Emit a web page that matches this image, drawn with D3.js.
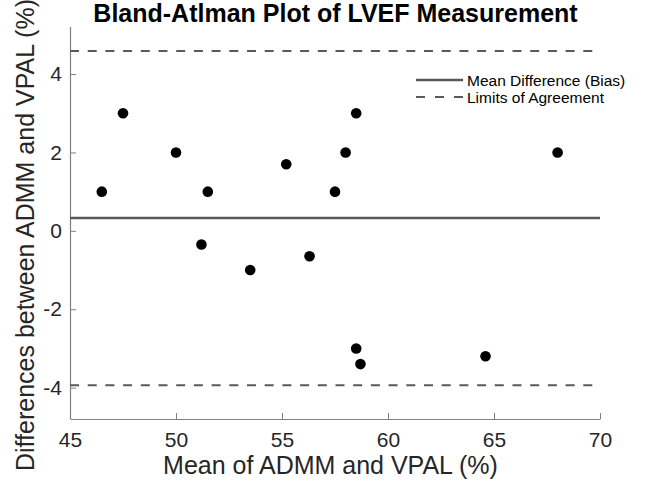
<!DOCTYPE html>
<html>
<head>
<meta charset="utf-8">
<script src="https://cdn.jsdelivr.net/npm/d3@7"></script>
<style>
  body { margin: 0; background: #fff; }
  text { font-family: "Liberation Sans", Arial, Helvetica, sans-serif; }
</style>
</head>
<body>
<script>
// mean of the two methods (%) and their difference (%)
var meanVals = [46.5, 47.5, 50.0, 51.2, 51.5, 53.5, 55.2, 56.3, 57.5, 58.0, 58.5, 58.5, 58.7, 64.6, 68.0];
var diffVals = [1.0, 3.0, 2.0, -0.35, 1.0, -1.0, 1.7, -0.65, 1.0, 2.0, 3.0, -3.0, -3.4, -3.2, 2.0];
var bias = 0.33;
var limits = [4.59, -3.94];
var xTicks = [45, 50, 55, 60, 65, 70];
var yTicks = [-4, -2, 0, 2, 4];
var legendLabels = ["Mean Difference (Bias)", "Limits of Agreement"];

var w = 649, h = 484;
var mLeft = 70, mRight = 600, mTop = 27, mBottom = 419;
var lineColor = "#5a5a5a";
var axisColor = "#808080";

var svg = d3.select("body").append("svg").attr("width", w).attr("height", h);

var x = d3.scaleLinear().domain([45, 70]).range([mLeft, mRight]);
var y = d3.scaleLinear().domain([-4.8, 5.2]).range([mBottom, mTop]);

// axes (ticks point inward, no box)
var xAxis = svg.append("g").attr("transform", "translate(0," + mBottom + ")")
  .call(d3.axisBottom(x).tickValues(xTicks).tickSizeInner(-6).tickSizeOuter(0).tickPadding(13));
var yAxis = svg.append("g").attr("transform", "translate(" + mLeft + ",0)")
  .call(d3.axisLeft(y).tickValues(yTicks).tickSizeInner(-6).tickSizeOuter(0).tickPadding(8)
    .tickFormat(function(d){ return d < 0 ? "-" + Math.abs(d) : d; }));
svg.selectAll(".domain").attr("stroke", axisColor).attr("stroke-width", 1.2);
svg.selectAll(".tick line").attr("stroke", axisColor).attr("stroke-width", 1);
svg.selectAll(".tick text").attr("fill", "#262626").style("font-size", "21px")
  .style("font-family", "Liberation Sans, Arial, sans-serif");
yAxis.select(".domain").attr("d", "M0.5," + mTop + "V" + mBottom);

// bias and limits of agreement
svg.append("line")
  .attr("x1", x(45)).attr("x2", x(70)).attr("y1", y(bias)).attr("y2", y(bias))
  .attr("stroke", lineColor).attr("stroke-width", 2.5);
svg.selectAll("line.loa").data(limits).enter().append("line").attr("class", "loa")
  .attr("x1", x(45)).attr("x2", x(70))
  .attr("y1", function(d){ return y(d); }).attr("y2", function(d){ return y(d); })
  .attr("stroke", lineColor).attr("stroke-width", 2).attr("stroke-dasharray", "9,8.7");

// points
svg.selectAll("circle").data(meanVals).enter().append("circle")
  .attr("cx", function(d){ return x(d); })
  .attr("cy", function(d, i){ return y(diffVals[i]); })
  .attr("r", 5.3)
  .attr("fill", "#000");

// legend
var lg = svg.append("g").attr("transform", "translate(416,80)");
lg.append("line").attr("x1", 0).attr("x2", 47).attr("y1", 0).attr("y2", 0)
  .attr("stroke", lineColor).attr("stroke-width", 2.5);
lg.append("line").attr("x1", 0).attr("x2", 47).attr("y1", 17).attr("y2", 17)
  .attr("stroke", lineColor).attr("stroke-width", 2).attr("stroke-dasharray", "9,10");
lg.selectAll("text").data(legendLabels).enter().append("text")
  .attr("x", 51).attr("y", function(d, i){ return 6 + i * 17; })
  .attr("fill", "#000").style("font-size", "15.5px")
  .text(function(d){ return d; });

// title and axis labels
svg.append("text").attr("x", 335.5).attr("y", 22).attr("text-anchor", "middle")
  .style("font-size", "25px").style("font-weight", "bold")
  .text("Bland-Atlman Plot of LVEF Measurement");
svg.append("text").attr("x", 330.5).attr("y", 474).attr("text-anchor", "middle")
  .attr("fill", "#262626").style("font-size", "25px")
  .text("Mean of ADMM and VPAL (%)");
svg.append("text").attr("transform", "translate(34," + ((mTop + mBottom) / 2 + 12) + ") rotate(-90)")
  .attr("text-anchor", "middle").attr("fill", "#262626").style("font-size", "25px")
  .text("Differences between ADMM and VPAL (%)");
</script>
</body>
</html>
